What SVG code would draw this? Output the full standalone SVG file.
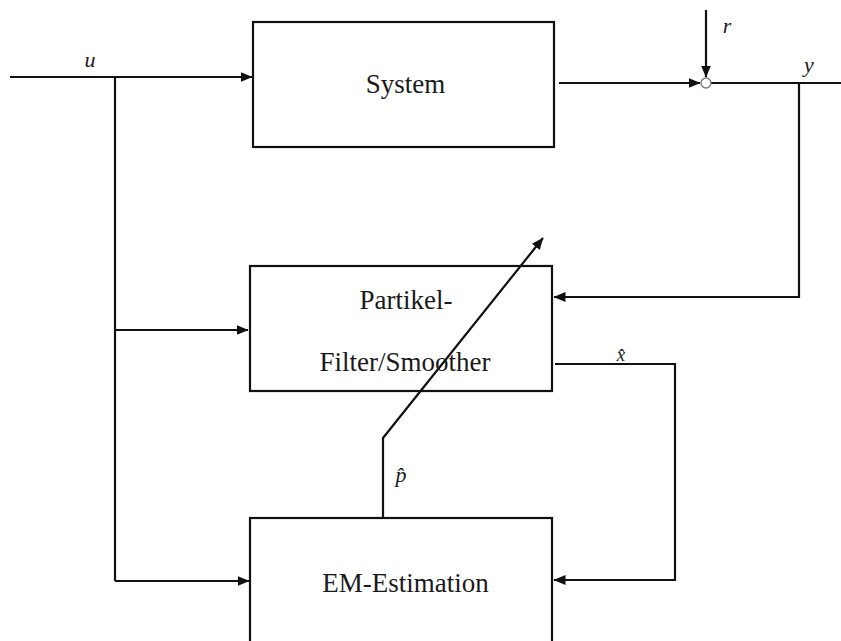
<svg xmlns="http://www.w3.org/2000/svg" width="841" height="641" viewBox="0 0 841 641">
<style>
.box{fill:none;stroke:#111;stroke-width:2.2}
.ln{fill:none;stroke:#111;stroke-width:2.2}
.arr{marker-end:url(#ah)}
.t{font-family:"Liberation Serif","Times New Roman",serif;font-size:27px;fill:#1a1a1a;text-anchor:middle}
.v{font-family:"Liberation Serif","Times New Roman",serif;font-style:italic;font-size:22px;fill:#1a1a1a;text-anchor:middle}
</style>
<defs>
<marker id="ah" markerUnits="userSpaceOnUse" markerWidth="13" markerHeight="11" refX="11.5" refY="5" orient="auto">
<path d="M0,0 L12,5 L0,10 z" fill="#111"/>
</marker>
</defs>
<g id="connectors">
<path class="ln arr" d="M10,77 L252,77"/>
<path class="ln" d="M115,77 L115,581"/>
<path class="ln arr" d="M115,330 L248,330"/>
<path class="ln arr" d="M115,581 L249,581"/>
<path class="ln arr" d="M559,83 L700,83"/>
<path class="ln arr" d="M706,10 L706,77"/>
<path class="ln" d="M711,83 L841,83"/>
<path class="ln arr" d="M799,83 L799,297 L554,297"/>
<path class="ln arr" d="M555,364 L675,364 L675,580 L554,580"/>
<path class="ln arr" d="M383,518 L383,438 L543,238"/>
<circle cx="706" cy="83" r="5" fill="#fff" stroke="#777" stroke-width="1.3"/>
<text class="v" x="90" y="67">u</text>
<text class="v" x="727" y="33">r</text>
<text class="v" x="809" y="72">y</text>
<text class="v" x="621" y="361" style="font-size:19px">x̂</text>
<text class="v" x="401" y="482">p̂</text>
</g>
<g id="system">
<rect class="box" x="253" y="22" width="301" height="125"/>
<text class="t" x="405.5" y="93">System</text>
</g>
<g id="filter">
<rect class="box" x="250" y="266" width="302" height="125"/>
<text class="t" x="406" y="309">Partikel-</text>
<text class="t" x="405" y="371">Filter/Smoother</text>
</g>
<g id="em">
<rect class="box" x="250" y="518" width="302" height="140"/>
<text class="t" x="405.5" y="592">EM-Estimation</text>
</g>
</svg>
